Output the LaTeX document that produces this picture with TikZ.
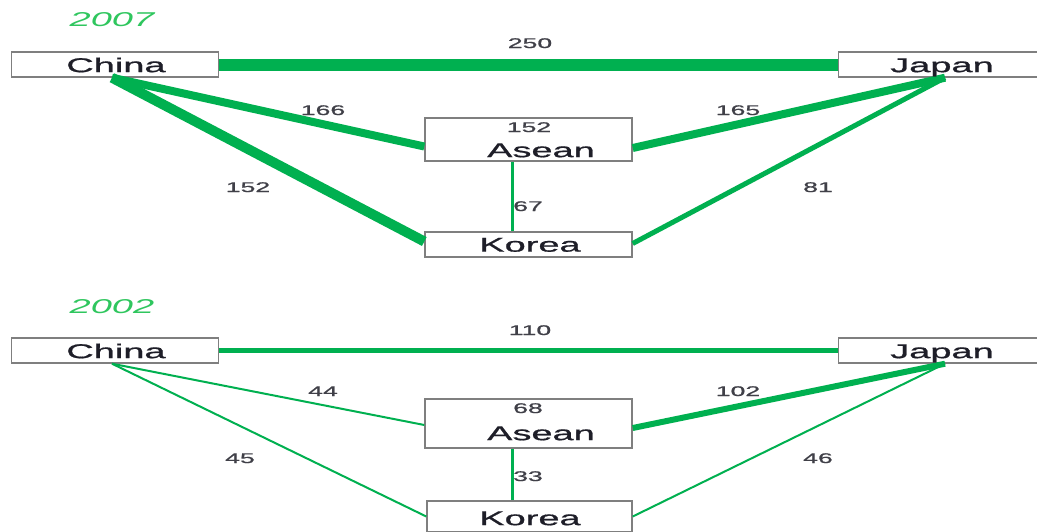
\documentclass[tikz,border=0pt]{standalone}
\usepackage{fontspec}
\usepackage{graphicx}
\setmainfont{Liberation Sans}
% slightly heavier face for the box and value labels
\newfontfamily\labelfont[FakeBold=0.7]{Liberation Sans}
\definecolor{flow}{HTML}{00B050}
\definecolor{yearc}{HTML}{2FC65E}
\definecolor{boxline}{HTML}{7F7F7F}
\definecolor{ink}{HTML}{1E1E28}
% labels are set in a horizontally widened face
\newcommand\wide[1]{\scalebox{1.9}[1]{#1}}
\begin{document}
\begin{tikzpicture}[x=1pt,y=-1pt,
  country/.style={draw=boxline,line width=1.4pt,fill=white,inner sep=0pt,
    minimum width=207pt,minimum height=25pt},
  ctext/.style={text=ink,font=\labelfont\fontsize{20}{20}\selectfont,inner sep=0pt,
    text height=14.3pt,text depth=0pt},
  vtext/.style={text=ink!85,font=\labelfont\fontsize{14}{14}\selectfont,inner sep=0pt,
    text height=10pt,text depth=0pt},
  ytext/.style={text=yearc,font=\fontsize{20}{20}\selectfont\itshape,inner sep=0pt,
    text height=14.3pt,text depth=0pt},
  flowline/.style={draw=flow,line width=#1}]
\useasboundingbox[fill=white] (0,0) rectangle (1037,531);

% ---------------- 2007 ----------------
\node[ytext] (y07) at (112,19) {\wide{2007}};
\node[country] (china1) at (115,64.5) {};
\node[country] (japan1) at (942,64.5) {};
\node[country,minimum height=43pt] (asean1) at (528.5,139.5) {};
\node[country] (korea1) at (528.5,244.5) {};

\draw[flowline=12pt] (china1.east) -- (japan1.west);
\draw[flowline=8pt] ([xshift=-3pt]china1.south) -- ([yshift=-7pt]asean1.west);
\draw[flowline=10pt] ([xshift=-3pt]china1.south) -- ([yshift=3pt]korea1.west);
\draw[flowline=8pt] ([xshift=3pt]japan1.south) -- ([yshift=-8.5pt]asean1.east);
\draw[flowline=5pt] ([xshift=3pt]japan1.south) -- ([yshift=1pt]korea1.east);
\draw[flowline=3.5pt] ([xshift=-16pt]asean1.south) -- ([xshift=-16pt]korea1.north);

\node[ctext] (china1t) at (116,65) {\wide{China}};
\node[ctext] (japan1t) at (942,65) {\wide{Japan}};
\node[ctext] (asean1t) at (541,150) {\wide{Asean}};
\node[ctext] (korea1t) at (530,244.5) {\wide{Korea}};

\node[vtext] (v250) at (530,43) {\wide{250}};
\node[vtext] (v166) at (323,110) {\wide{166}};
\node[vtext] (v152a) at (248,187) {\wide{152}};
\node[vtext] (v165) at (738,110) {\wide{165}};
\node[vtext] (v81) at (818,187) {\wide{81}};
\node[vtext] (v67) at (528,206) {\wide{67}};
\node[vtext] (v152b) at (529,127) {\wide{152}};

% ---------------- 2002 ----------------
\node[ytext] (y02) at (112,306) {\wide{2002}};
\node[country] (china2) at (115,350.5) {};
\node[country] (japan2) at (942,350.5) {};
\node[country,minimum height=49pt] (asean2) at (528.5,423.5) {};
\node[country,minimum width=205pt,minimum height=31pt] (korea2) at (529.5,516.5) {};

\draw[flowline=5pt] (china2.east) -- (japan2.west);
\draw[flowline=2pt] ([xshift=-3pt]china2.south) -- ([yshift=-1.5pt]asean2.west);
\draw[flowline=2pt] ([xshift=-3pt]china2.south) -- (korea2.west);
\draw[flowline=6pt] ([xshift=3pt]japan2.south) -- ([yshift=-4.5pt]asean2.east);
\draw[flowline=2pt] ([xshift=3pt]japan2.south) -- (korea2.east);
\draw[flowline=3pt] ([xshift=-16pt]asean2.south) -- ([xshift=-17pt]korea2.north);

\node[ctext] (china2t) at (116,351) {\wide{China}};
\node[ctext] (japan2t) at (942,351) {\wide{Japan}};
\node[ctext] (asean2t) at (541,433) {\wide{Asean}};
\node[ctext] (korea2t) at (530,518) {\wide{Korea}};

\node[vtext] (v110) at (530,330) {\wide{110}};
\node[vtext] (v44) at (323,391) {\wide{44}};
\node[vtext] (v45) at (240,458) {\wide{45}};
\node[vtext] (v102) at (738,391) {\wide{102}};
\node[vtext] (v46) at (818,458) {\wide{46}};
\node[vtext] (v33) at (528,476) {\wide{33}};
\node[vtext] (v68) at (528,408) {\wide{68}};
\end{tikzpicture}
\end{document}
